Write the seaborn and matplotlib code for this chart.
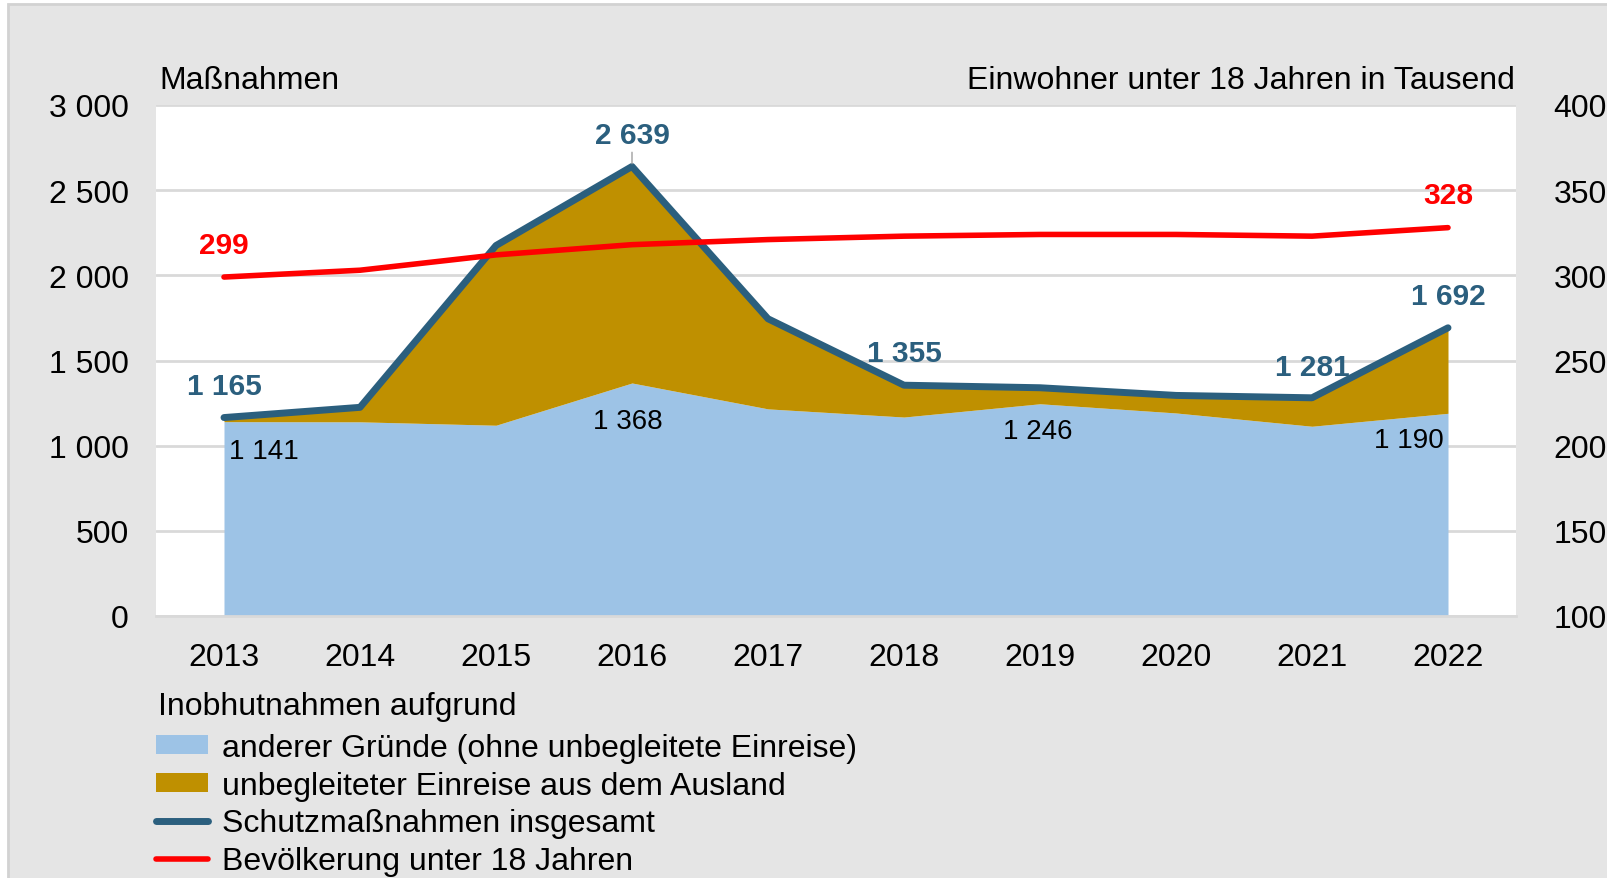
import numpy as np
import pandas as pd
import matplotlib
matplotlib.use("Agg")
import matplotlib.pyplot as plt
import seaborn as sns
from matplotlib.patches import Rectangle, Patch
from matplotlib.lines import Line2D
from matplotlib.ticker import FuncFormatter, MultipleLocator

# Daten
jahre = [2013, 2014, 2015, 2016, 2017, 2018, 2019, 2020, 2021, 2022]
andere = [1141, 1140, 1120, 1368, 1216, 1168, 1246, 1192, 1114, 1190]
insgesamt = [1165, 1225, 2175, 2639, 1745, 1355, 1340, 1295, 1281, 1692]
bevoelkerung = [299, 303, 312, 318, 321, 323, 324, 324, 323, 328]
unbegleitet = [g - a for g, a in zip(insgesamt, andere)]

df = pd.DataFrame({"Jahr": jahre, "andere": andere, "unbegleitet": unbegleitet,
                   "insgesamt": insgesamt, "bev": bevoelkerung})

# Farben
hellblau = "#9dc3e6"
gold = "#bf9000"
dunkelblau = "#2b5f7e"
rot = "#ff0000"
gitter = "#d9d9d9"

sns.set_theme(style="white")
plt.rcParams["font.family"] = ["Liberation Sans", "DejaVu Sans"]
plt.rcParams["text.color"] = "black"
plt.rcParams["legend.labelcolor"] = "black"

fig = plt.figure(figsize=(16.08, 8.79), dpi=100)
fig.patch.set_facecolor("white")
# grauer Rahmen
fig.patches.append(Rectangle((8 / 1608, -0.01), 1.0, 1 - 5 / 879 + 0.01, transform=fig.transFigure,
                             facecolor="#e5e5e5", edgecolor="#d2d2d2", linewidth=2, zorder=-10))

ax = fig.add_axes([156 / 1608, 1 - 617 / 879, (1516 - 156) / 1608, (617 - 106) / 879])
ax.set_facecolor("white")

# gestapelte Flächen
ax.stackplot(df["Jahr"], df["andere"], df["unbegleitet"], colors=[hellblau, gold],
             linewidth=0, zorder=2)
# Gesamtlinie
sns.lineplot(data=df, x="Jahr", y="insgesamt", ax=ax, color=dunkelblau, linewidth=5,
             solid_capstyle="round", solid_joinstyle="round", zorder=3)

ax.set_xlim(2012.5, 2022.5)
ax.set_ylim(0, 3000)
ax.yaxis.set_major_locator(MultipleLocator(500))
ax.set_xticks(jahre)
fmt = FuncFormatter(lambda v, p: f"{v:,.0f}".replace(",", " "))
ax.yaxis.set_major_formatter(fmt)
ax.grid(axis="y", color=gitter, linewidth=2, zorder=0)
ax.set_axisbelow(True)
for s in ["top", "left", "right"]:
    ax.spines[s].set_visible(False)
ax.spines["bottom"].set_color(gitter)
ax.spines["bottom"].set_linewidth(2)
ax.tick_params(axis="both", length=0, labelsize=23, colors="black")
ax.tick_params(axis="y", pad=19.5)
ax.tick_params(axis="x", pad=19)
ax.set_xlabel("")
ax.set_ylabel("")

# zweite Achse: Bevölkerung
ax2 = ax.twinx()
sns.lineplot(data=df, x="Jahr", y="bev", ax=ax2, color=rot, linewidth=4,
             solid_capstyle="round", zorder=4)
ax2.set_ylim(100, 400)
ax2.yaxis.set_major_locator(MultipleLocator(50))
for s in ax2.spines.values():
    s.set_visible(False)
ax2.tick_params(axis="y", length=0, labelsize=23, pad=27, colors="black")
ax2.set_ylabel("")
ax2.grid(False)

# Datenbeschriftungen
def zahl(v):
    return f"{v:,.0f}".replace(",", " ")

kw_blau = dict(color=dunkelblau, fontsize=21.5, fontweight="bold", ha="center", va="center")
for i, dy in [(0, 185), (5, 190), (8, 180), (9, 185)]:
    ax.text(jahre[i], insgesamt[i] + dy, zahl(insgesamt[i]), **kw_blau)
ax.annotate(zahl(insgesamt[3]), xy=(jahre[3], insgesamt[3]), xytext=(jahre[3], insgesamt[3] + 185),
            arrowprops=dict(arrowstyle="-", color="#a0a0a0", lw=1, shrinkA=11, shrinkB=2),
            **kw_blau)
kw_rot = dict(color=rot, fontsize=21.5, fontweight="bold", ha="center", va="center")
ax2.text(jahre[0], bevoelkerung[0] + 19, zahl(bevoelkerung[0]), **kw_rot)
ax2.text(jahre[-1], bevoelkerung[-1] + 19, zahl(bevoelkerung[-1]), **kw_rot)
kw_schwarz = dict(color="black", fontsize=20, ha="center", va="center")
for i, dx, dy in [(0, 0.29, -170), (3, -0.03, -225), (6, -0.02, -162), (9, -0.29, -155)]:
    ax.text(jahre[i] + dx, andere[i] + dy, zahl(andere[i]), **kw_schwarz)

# Achsentitel
fig.text(159 / 1608, 1 - 81 / 879, "Maßnahmen", fontsize=23, ha="left", va="center")
fig.text(1515 / 1608, 1 - 81 / 879, "Einwohner unter 18 Jahren in Tausend", fontsize=23,
         ha="right", va="center")

# Legende
fig.text(158 / 1608, 1 - 707 / 879, "Inobhutnahmen aufgrund", fontsize=23, ha="left", va="center")
handles = [Patch(facecolor=hellblau, edgecolor="none"),
           Patch(facecolor=gold, edgecolor="none"),
           Line2D([0], [0], color=dunkelblau, linewidth=5, solid_capstyle="round"),
           Line2D([0], [0], color=rot, linewidth=4, solid_capstyle="round")]
labels = ["anderer Gründe (ohne unbegleitete Einreise)",
          "unbegleiteter Einreise aus dem Ausland",
          "Schutzmaßnahmen insgesamt",
          "Bevölkerung unter 18 Jahren"]
leg = fig.legend(handles, labels, loc="upper left",
                 bbox_to_anchor=(156 / 1608, 1 - 734 / 879), frameon=False, fontsize=23,
                 handlelength=1.63, handleheight=0.55,
                 handletextpad=0.45, labelspacing=0.24, borderaxespad=0, borderpad=0)

fig.savefig("out.png", dpi=100, facecolor=fig.get_facecolor())
